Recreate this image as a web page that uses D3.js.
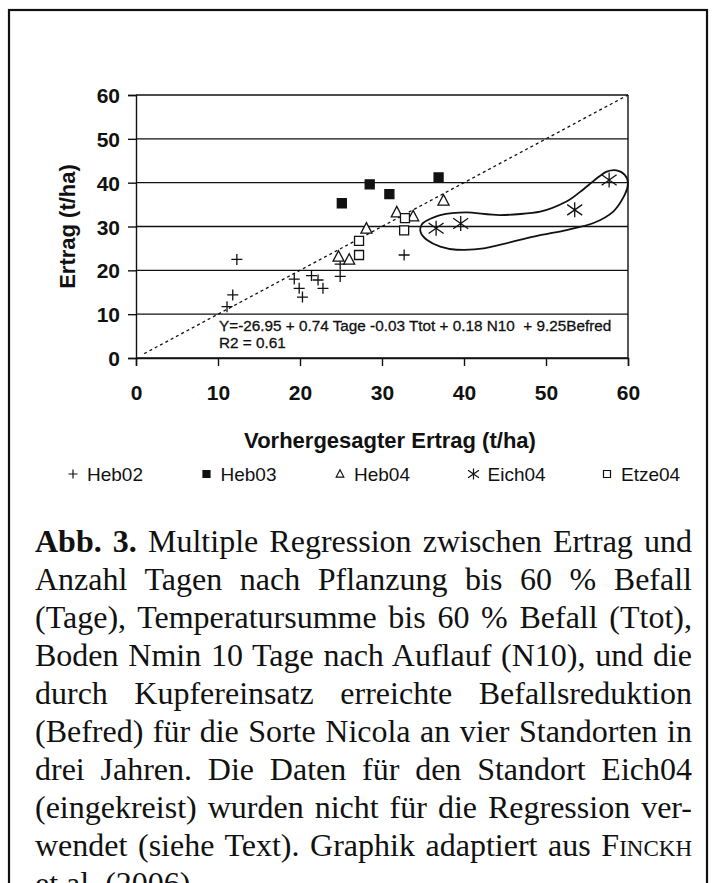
<!DOCTYPE html>
<html>
<head>
<meta charset="utf-8">
<script src="https://cdn.jsdelivr.net/npm/d3@7"></script>
<style>
  html, body { margin: 0; padding: 0; background: #fff; }
  svg { display: block; }
</style>
</head>
<body>
<svg id="fig" width="714" height="883"></svg>
<script>
// values
const xTicks = [0, 10, 20, 30, 40, 50, 60];
const yTicks = [0, 10, 20, 30, 40, 50, 60];

const heb02X = [12.3, 11.8, 11.1, 19.3, 19.9, 20.3, 21.4, 22.2, 22.8, 24.9, 24.9, 32.7];
const heb02Y = [22.5, 14.4, 11.7, 18.0, 15.9, 13.9, 18.8, 17.8, 15.9, 18.6, 21.4, 23.5];

const heb03X = [25.1, 28.5, 30.9, 36.9];
const heb03Y = [35.3, 39.6, 37.4, 41.2];

const heb04X = [24.7, 26.0, 28.1, 31.8, 33.8, 37.5];
const heb04Y = [23.1, 22.4, 29.5, 33.2, 32.3, 35.9];

const eich04X = [36.6, 39.6, 53.5, 57.7];
const eich04Y = [29.6, 30.7, 33.8, 40.6];

const etze04X = [27.2, 27.2, 32.8, 32.7];
const etze04Y = [26.7, 23.5, 31.9, 29.1];

// hand-drawn ring around the Eich04 points (data units)
const ringX = [34.7, 35.5, 37.1, 39.1, 42.4, 48.5, 52.5, 55.8, 58.2, 59.6, 60.0, 59.6, 58.6, 57.4, 56.2, 54.5, 52.5, 49.3, 44.4, 40.3, 37.1, 35.0];
const ringY = [28.8, 26.9, 25.4, 24.7, 25.0, 27.7, 29.2, 30.8, 33.4, 37.2, 39.9, 41.8, 42.8, 42.5, 41.0, 38.4, 35.7, 33.4, 32.6, 33.2, 32.6, 30.8];

// 1:1 reference line
const refX = [1, 60];
const refY = [1, 60];

const seriesNames = ['Heb02', 'Heb03', 'Heb04', 'Eich04', 'Etze04'];

const equationText = 'Y=-26.95 + 0.74 Tage -0.03 Ttot + 0.18 N10  + 9.25Befred';
const r2Text = 'R2 = 0.61';

const captionLines = [
  [{ t: 'Abb. 3.', b: true }, { t: ' Multiple Regression zwischen Ertrag und' }],
  [{ t: 'Anzahl Tagen nach Pflanzung bis 60 % Befall' }],
  [{ t: '(Tage), Temperatursumme bis 60 % Befall (Ttot),' }],
  [{ t: 'Boden Nmin 10 Tage nach Auflauf (N10), und die' }],
  [{ t: 'durch Kupfereinsatz erreichte Befallsreduktion' }],
  [{ t: '(Befred) für die Sorte Nicola an vier Standorten in' }],
  [{ t: 'drei Jahren. Die Daten für den Standort Eich04' }],
  [{ t: '(eingekreist) wurden nicht für die Regression ver-' }],
  [{ t: 'wendet (siehe Text). Graphik adaptiert aus F' }, { t: 'INCKH', sc: true }],
  [{ t: 'et al. (2006).' }]
];

// ---- layout ----
const sans = '"Liberation Sans", Arial, sans-serif';
const serif = '"Liberation Serif", "Times New Roman", serif';

const svg = d3.select('#fig');

const x = d3.scaleLinear().domain([0, 60]).range([136, 628]);
const y = d3.scaleLinear().domain([0, 60]).range([358, 95]);

// outer frame
svg.append('rect')
  .attr('x', 9).attr('y', 10)
  .attr('width', 698).attr('height', 920)
  .attr('fill', 'none')
  .attr('stroke', '#111')
  .attr('stroke-width', 2.2);

const plot = svg.append('g');

// horizontal gridlines
plot.selectAll('line.grid')
  .data(yTicks)
  .enter()
  .append('line')
  .attr('class', 'grid')
  .attr('x1', x(0)).attr('x2', x(60))
  .attr('y1', (d) => y(d)).attr('y2', (d) => y(d))
  .attr('stroke', '#111')
  .attr('stroke-width', 1.4);

// right border of plot area
plot.append('line')
  .attr('x1', x(60)).attr('x2', x(60))
  .attr('y1', y(60)).attr('y2', y(0))
  .attr('stroke', '#111')
  .attr('stroke-width', 1.4);

const xAxis = d3.axisBottom(x).tickValues(xTicks).tickSize(8).tickPadding(19).tickFormat(d3.format('d'));
const yAxis = d3.axisLeft(y).tickValues(yTicks).tickSize(8).tickPadding(8).tickFormat(d3.format('d'));

const gx = plot.append('g').attr('transform', `translate(0,${y(0)})`).call(xAxis);
const gy = plot.append('g').attr('transform', `translate(${x(0)},0)`).call(yAxis);

[gx, gy].forEach((g) => {
  g.select('.domain').attr('stroke', '#111').attr('stroke-width', 1.4);
  g.selectAll('.tick line').attr('stroke', '#111').attr('stroke-width', 1.4);
  g.selectAll('.tick text')
    .attr('fill', '#111')
    .style('font-family', sans)
    .style('font-size', '21px')
    .style('font-weight', 'bold');
});
gy.selectAll('.tick text').attr('dy', '0.36em');

// axis titles
svg.append('text')
  .attr('x', 390).attr('y', 448)
  .attr('text-anchor', 'middle')
  .style('font-family', sans).style('font-size', '22px').style('font-weight', 'bold')
  .attr('fill', '#111')
  .text('Vorhergesagter Ertrag (t/ha)');

svg.append('text')
  .attr('transform', `translate(75,${(y(0) + y(60)) / 2}) rotate(-90)`)
  .attr('text-anchor', 'middle')
  .style('font-family', sans).style('font-size', '22px').style('font-weight', 'bold')
  .attr('fill', '#111')
  .text('Ertrag (t/ha)');

// dotted 1:1 line
const line = d3.line().x((d) => x(d[0])).y((d) => y(d[1]));
plot.append('path')
  .attr('d', line(d3.zip(refX, refY)))
  .attr('fill', 'none')
  .attr('stroke', '#111')
  .attr('stroke-width', 1.3)
  .attr('stroke-dasharray', '3,3');

// marker shapes
const shapes = {
  Heb02: (s) => `M${-s},0H${s}M0,${-s}V${s}`,
  Heb03: (s) => `M${-s},${-s}h${2 * s}v${2 * s}h${-2 * s}Z`,
  Heb04: (s) => `M0,${-s * 1.1}L${s},${s * 0.8}L${-s},${s * 0.8}Z`,
  Eich04: (s) => `M${-s},${-s * 0.7}L${s},${s * 0.7}M${-s},${s * 0.7}L${s},${-s * 0.7}M0,${-s}V${s}`,
  Etze04: (s) => `M${-s},${-s}h${2 * s}v${2 * s}h${-2 * s}Z`
};
const fills = { Heb02: 'none', Heb03: '#111', Heb04: '#fff', Eich04: 'none', Etze04: '#fff' };
const plotSize = { Heb02: 5.5, Heb03: 4.5, Heb04: 5.5, Eich04: 7.5, Etze04: 4.5 };
const legendSize = { Heb02: 4.5, Heb03: 3.5, Heb04: 3.8, Eich04: 5.5, Etze04: 3.5 };

const series = [
  { name: 'Heb02', xs: heb02X, ys: heb02Y },
  { name: 'Heb03', xs: heb03X, ys: heb03Y },
  { name: 'Heb04', xs: heb04X, ys: heb04Y },
  { name: 'Eich04', xs: eich04X, ys: eich04Y },
  { name: 'Etze04', xs: etze04X, ys: etze04Y }
];

series.forEach((s) => {
  plot.append('g')
    .selectAll('path')
    .data(d3.zip(s.xs, s.ys))
    .enter()
    .append('path')
    .attr('transform', (d) => `translate(${x(d[0])},${y(d[1])})`)
    .attr('d', shapes[s.name](plotSize[s.name]))
    .attr('fill', fills[s.name])
    .attr('stroke', '#111')
    .attr('stroke-width', 1.3);
});

// ring around Eich04
const ring = d3.line().x((d) => x(d[0])).y((d) => y(d[1])).curve(d3.curveCardinalClosed.tension(0.2));
plot.append('path')
  .attr('d', ring(d3.zip(ringX, ringY)))
  .attr('fill', 'none')
  .attr('stroke', '#111')
  .attr('stroke-width', 1.8);

// regression text
plot.append('text')
  .attr('x', 219).attr('y', 331)
  .style('font-family', sans).style('font-size', '15.3px').style('white-space', 'pre')
  .attr('fill', '#111').attr('stroke', '#111').attr('stroke-width', 0.3)
  .text(equationText);
plot.append('text')
  .attr('x', 219).attr('y', 348)
  .style('font-family', sans).style('font-size', '15.3px')
  .attr('fill', '#111').attr('stroke', '#111').attr('stroke-width', 0.3)
  .text(r2Text);

// legend
const lx = d3.scalePoint().domain(seriesNames).range([73, 607]);
const legend = svg.append('g')
  .selectAll('g')
  .data(seriesNames)
  .enter()
  .append('g')
  .attr('transform', (d) => `translate(${lx(d)},474)`);
legend.append('path')
  .attr('d', (d) => shapes[d](legendSize[d]))
  .attr('fill', (d) => fills[d])
  .attr('stroke', '#111')
  .attr('stroke-width', 1.2);
legend.append('text')
  .attr('x', 14).attr('y', 7)
  .style('font-family', sans).style('font-size', '19px')
  .attr('fill', '#111')
  .text((d) => d);

// caption, justified line by line
const capLeft = 35;
const capWidth = 657;
const cap = svg.append('g');
captionLines.forEach((parts, i) => {
  const t = cap.append('text')
    .attr('x', capLeft)
    .attr('y', 552 + i * 38)
    .style('font-family', serif)
    .style('font-size', '32px')
    .attr('fill', '#111');
  parts.forEach((p) => {
    t.append('tspan')
      .style('font-weight', p.b ? 'bold' : 'normal')
      .style('font-size', p.sc ? '23px' : null)
      .text(p.t);
  });
  if (i < captionLines.length - 1) {
    const full = parts.map((p) => p.t).join('');
    const gaps = (full.match(/ /g) || []).length;
    const w = t.node().getComputedTextLength();
    if (gaps > 0) t.style('word-spacing', `${(capWidth - w) / gaps}px`);
  }
});
</script>
</body>
</html>
